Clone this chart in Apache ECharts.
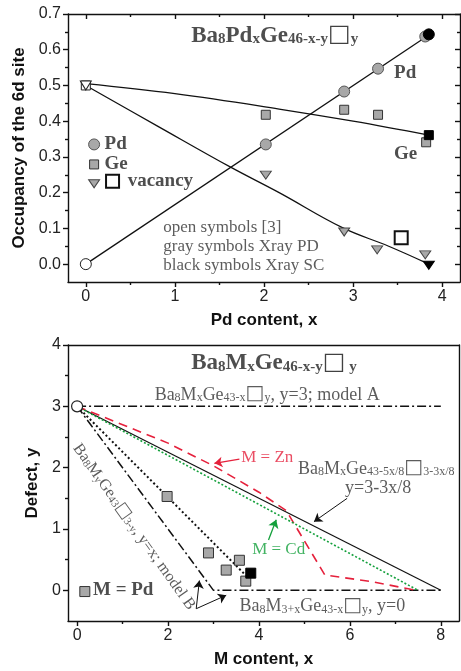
<!DOCTYPE html>
<html><head><meta charset="utf-8">
<script src="https://cdn.jsdelivr.net/npm/echarts@6/dist/echarts.min.js"></script>
<style>html,body{margin:0;padding:0;background:#fff}#c{width:461px;height:671px}</style>
</head><body><div id="c"></div>
<script>
// ---------- top panel data: Ba8PdxGe46-x-y (occupancy of 6d site) ----------
const pdGray   = [[2.02,0.335],[2.90,0.483],[3.28,0.547],[3.81,0.637]];
const pdBlack  = [[3.85,0.643]];
const pdOpen   = [[0,0]];
const geGray   = [[2.02,0.418],[2.90,0.432],[3.28,0.418],[3.82,0.341]];
const geBlack  = [[3.85,0.361]];
const geOpen   = [[0,0.5]];
const vacGray  = [[2.02,0.249],[2.90,0.090],[3.27,0.040],[3.81,0.026]];
const vacBlack = [[3.85,-0.003]];
const vacOpen  = [[0,0.5]];
const vacOpenBig = [[3.54,0.074]];
const pdFit  = [[0,0],[3.85,0.641]];
const geFit  = [[0,0.505],[1,0.477],[2.17,0.434],[3,0.400],[3.85,0.361]];
const vacFit = [[0,0.5],[0.8,0.387],[1.62,0.272],[2.17,0.200],[2.88,0.102],[3.4,0.050],[3.85,0]];
const topXTicks = [0,1,2,3,4];
const topXMinor = [0.5,1.5,2.5,3.5];
const topYTicks = [0,0.1,0.2,0.3,0.4,0.5,0.6,0.7];
const topYMinor = [0.05,0.15,0.25,0.35,0.45,0.55,0.65];

// ---------- bottom panel data: defect y vs M content x ----------
const pdDefect      = [[1.98,1.53],[2.89,0.61],[3.28,0.33],[3.57,0.49],[3.71,0.15]];
const pdDefectBlack = [[3.82,0.28]];
const startPoint = [[0,3]];
const modelA   = [[0,3],[8,3]];
const modelB   = [[0,3],[3,0],[8,0]];
const modelC   = [[0,3],[8,0]];
const znCurve  = [[0,3],[2,2.4],[3,2.03],[4,1.6],[4.6,1.3],[5.45,0.25],[6.5,0.14],[7.45,0]];
const cdLine   = [[0,3],[7.5,0]];
const pdLine   = [[0,3],[3.71,0.245]];
const botXTicks = [0,2,4,6,8];
const botXMinor = [1,3,5,7];
const botYTicks = [0,1,2,3,4];
const botYMinor = [0.5,1.5,2.5,3.5];

const SERIF = '"Liberation Serif","Times New Roman",serif';
const SANS  = '"Liberation Sans",Arial,sans-serif';
const BOXF  = '"DejaVu Sans",sans-serif';
const RED = '#e5213c', GREEN = '#14a03c', GRAY = '#a8a8a8';
const AL = {color:'#111', width:1.4};

function rs(o){ return Object.assign({verticalAlign:'bottom'}, o); }
const rich = {
  T:  rs({fontFamily:SERIF,fontWeight:'bold',fontSize:23,color:'#222',lineHeight:24}),
  Ts: rs({fontFamily:SERIF,fontWeight:'bold',fontSize:15,color:'#222',lineHeight:17}),
  Tb: rs({fontFamily:BOXF,fontWeight:'bold',fontSize:24,color:'#111',lineHeight:24}),
  n:  rs({fontFamily:SERIF,fontSize:18,color:'#333',lineHeight:20}),
  s:  rs({fontFamily:SERIF,fontSize:12,color:'#333',lineHeight:14}),
  nb: rs({fontFamily:BOXF,fontSize:20,color:'#333',lineHeight:20}),
  m:  rs({fontFamily:SERIF,fontSize:16,color:'#333',lineHeight:18}),
  ms: rs({fontFamily:SERIF,fontSize:11,color:'#333',lineHeight:13}),
  mb: rs({fontFamily:BOXF,fontSize:17,color:'#333',lineHeight:17}),
  L:  rs({fontFamily:SERIF,fontWeight:'bold',fontSize:19,color:'#222'}),
  r:  rs({fontFamily:SERIF,fontSize:17,color:RED}),
  g:  rs({fontFamily:SERIF,fontSize:17,color:GREEN}),
  o:  rs({fontFamily:SERIF,fontSize:17,color:'#333'})
};

function xAx(grid, pos, min, max, vals, len, inside, labels, line, extra){
  return Object.assign({gridIndex:grid,type:'value',position:pos,min:min,max:max,
    axisLine:{show:line,onZero:false,lineStyle:AL},
    axisTick:{show:vals.length>0,inside:inside,customValues:vals,length:len,lineStyle:AL},
    axisLabel:labels?{show:true,customValues:vals,margin:7,fontSize:16,color:'#222',fontFamily:SANS}:{show:false},
    splitLine:{show:false}}, extra||{});
}
function yAx(grid, pos, min, max, vals, len, inside, labels, line, extra, fmt){
  return Object.assign({gridIndex:grid,type:'value',position:pos,min:min,max:max,
    axisLine:{show:line,onZero:false,lineStyle:AL},
    axisTick:{show:vals.length>0,inside:inside,customValues:vals,length:len,lineStyle:AL},
    axisLabel:labels?{show:true,customValues:vals,margin:7,fontSize:16,color:'#222',fontFamily:SANS,formatter:fmt}:{show:false},
    splitLine:{show:false}}, extra||{});
}
const nameStyle = {fontFamily:SANS,fontWeight:'bold',fontSize:17,color:'#111'};

function pts(data, xi, yi, symbol, size, fill, border, bw, rot, z){
  return {type:'scatter',xAxisIndex:xi,yAxisIndex:yi,data:data,symbol:symbol,symbolSize:size,
    symbolRotate:rot||0,z:z||5,itemStyle:{color:fill,borderColor:border,borderWidth:bw,opacity:1},silent:true};
}
function line(data, xi, yi, color, width, type, smooth){
  return {type:'line',xAxisIndex:xi,yAxisIndex:yi,data:data,showSymbol:false,symbol:'none',smooth:smooth||false,
    lineStyle:{color:color,width:width,type:type},z:2,silent:true};
}
function ann(xi, yi, items){
  return {type:'scatter',xAxisIndex:xi,yAxisIndex:yi,symbolSize:0,z:10,silent:true,
    data:items.map(it=>({value:it.p,label:{show:true,position:'inside',formatter:it.t,
      align:it.a||'left',verticalAlign:'middle',rotate:it.r||0,rich:rich}}))};
}

const chart = echarts.init(document.getElementById('c'),null,{renderer:'canvas'});
chart.setOption({
  animation:false,
  backgroundColor:'#fff',
  grid:[{left:68,top:14,width:392,height:268},{left:68,top:345,width:391,height:276}],
  xAxis:[
    xAx(0,'bottom',-0.2,4.2,topXTicks,5,false,true,true,{name:'Pd content, x',nameLocation:'middle',nameGap:30,nameTextStyle:nameStyle}),
    xAx(0,'bottom',-0.2,4.2,topXMinor,3,false,false,false),
    xAx(0,'top',-0.2,4.2,topXTicks,5,true,false,true),
    xAx(0,'top',-0.2,4.2,topXMinor,3,true,false,false),
    xAx(1,'bottom',-0.2,8.4,botXTicks,5,false,true,true,{name:'M content, x',nameLocation:'middle',nameGap:30,nameTextStyle:nameStyle}),
    xAx(1,'bottom',-0.2,8.4,botXMinor,3,false,false,false),
    xAx(1,'top',-0.2,8.4,[],0,true,false,true)
  ],
  yAxis:[
    yAx(0,'left',-0.05,0.7,topYTicks,5,false,true,true,{name:'Occupancy of the 6d site',nameLocation:'middle',nameGap:30,nameTextStyle:nameStyle},v=>v.toFixed(1)),
    yAx(0,'left',-0.05,0.7,topYMinor,3,false,false,false),
    yAx(0,'right',-0.05,0.7,topYTicks,5,true,false,true),
    yAx(0,'right',-0.05,0.7,topYMinor,3,true,false,false),
    yAx(1,'left',-0.5,4,botYTicks,5,false,true,true,{name:'Defect, y',nameLocation:'middle',nameGap:24,nameTextStyle:nameStyle},v=>String(Math.round(v))),
    yAx(1,'left',-0.5,4,botYMinor,3,false,false,false),
    yAx(1,'right',-0.5,4,[],0,true,false,true)
  ],
  series:[
    // ---- top panel ----
    line(pdFit,0,0,'#111',1.3,'solid'),
    line(geFit,0,0,'#111',1.3,'solid',0.4),
    line(vacFit,0,0,'#111',1.3,'solid',0.4),
    pts(geOpen,0,0,'rect',9,'#fff','#222',1),
    pts(vacOpen,0,0,'triangle',[11,9],'#fff','#222',1,180,6),
    pts(pdOpen,0,0,'circle',11,'#fff','#222',1),
    pts(pdGray,0,0,'circle',11,GRAY,'#555',1),
    pts(pdBlack,0,0,'circle',11,'#000','#000',1),
    pts(geGray,0,0,'rect',9,GRAY,'#333',1),
    pts(geBlack,0,0,'rect',9,'#000','#000',1),
    pts(vacGray,0,0,'triangle',[11,8],GRAY,'#444',1,180),
    pts(vacBlack,0,0,'triangle',[11,8],'#000','#000',1,180),
    pts(vacOpenBig,0,0,'rect',13,'#fff','#111',2),
    // legend markers (top)
    pts([[0.093,0.335]],0,0,'circle',11,GRAY,'#555',1),
    pts([[0.093,0.279]],0,0,'rect',9,GRAY,'#333',1),
    pts([[0.093,0.225]],0,0,'triangle',[11,8],GRAY,'#444',1,180),
    pts([[0.30,0.232]],0,0,'rect',13,'#fff','#111',2),
    ann(0,0,[
      {p:[2.12,0.641],a:'center',t:'{T|Ba}{Ts|8}{T|Pd}{Ts|x}{T|Ge}{Ts|46-x-y}{Tb|□}{Ts|y}'},
      {p:[3.46,0.535],t:'{L|Pd}'},
      {p:[3.46,0.307],t:'{L|Ge}'},
      {p:[0.21,0.335],t:'{L|Pd}'},
      {p:[0.21,0.279],t:'{L|Ge}'},
      {p:[0.47,0.232],t:'{L|vacancy}'},
      {p:[0.87,0.103],t:'{o|open symbols [3]}'},
      {p:[0.87,0.050],t:'{o|gray symbols Xray PD}'},
      {p:[0.87,-0.003],t:'{o|black symbols Xray SC}'}
    ]),
    // ---- bottom panel ----
    line(modelA,4,4,'#111',1.5,[9,3,2,3]),
    line(modelB,4,4,'#111',1.5,[9,3,2,3]),
    line(modelC,4,4,'#111',1.2,'solid'),
    line(znCurve,4,4,RED,1.6,[9,6]),
    line(cdLine,4,4,GREEN,1.6,[2,2]),
    line(pdLine,4,4,'#111',2,[2,2.5]),
    pts(pdDefect,4,4,'rect',10,GRAY,'#333',1),
    pts(pdDefectBlack,4,4,'rect',10,'#000','#000',1),
    pts(startPoint,4,4,'circle',11,'#fff','#222',1.2),
    pts([[0.17,-0.02]],4,4,'rect',10,GRAY,'#333',1),
    ann(4,4,[
      {p:[4.33,3.71],a:'center',t:'{T|Ba}{Ts|8}{T|M}{Ts|x}{T|Ge}{Ts|46-x-y}{Tb|□}{Ts| y}'},
      {p:[4.18,3.20],a:'center',t:'{n|Ba}{s|8}{n|M}{s|x}{n|Ge}{s|43-x}{nb|□}{s|y}{n|, y=3; model A}'},
      {p:[6.58,1.99],a:'center',t:'{n|Ba}{s|8}{n|M}{s|x}{n|Ge}{s|43-5x/8}{nb|□}{s|3-3x/8}'},
      {p:[6.62,1.68],a:'center',t:'{n|y=3-3x/8}'},
      {p:[3.61,2.17],t:'{r|M = Zn}'},
      {p:[3.85,0.67],t:'{g|M = Cd}'},
      {p:[3.57,-0.245],t:'{n|Ba}{s|8}{n|M}{s|3+x}{n|Ge}{s|43-x}{nb|□}{s|y}{n|, y=0}'},
      {p:[0.35,0.0],t:'{L|M = Pd}'},
      {p:[0.0,2.37],r:-54.6,t:'{m|Ba}{ms|8}{m|M}{ms|y}{m|Ge}{ms|43}{mb|□}{ms|3-y}{m|, y=x; model B}'}
    ]),
    {type:'line',xAxisIndex:4,yAxisIndex:4,data:[],silent:true,
      markLine:{silent:true,animation:false,symbol:['none','arrow'],symbolSize:8,label:{show:false},
        lineStyle:{type:'solid',width:1,color:'#111'},emphasis:{disabled:true},
        data:[
          [{coord:[3.57,2.14],lineStyle:{color:RED,width:1.3},itemStyle:{color:RED}},{coord:[3.02,2.07]}],
          [{coord:[5.94,1.50]},{coord:[5.21,1.12]}],
          [{coord:[4.21,0.82],lineStyle:{color:GREEN,width:1.3},itemStyle:{color:GREEN}},{coord:[4.38,1.15]}],
          [{coord:[2.62,-0.30]},{coord:[2.69,0.16]}],
          [{coord:[2.62,-0.30]},{coord:[3.28,-0.08]}]
        ]}}
  ]
});
</script></body></html>
